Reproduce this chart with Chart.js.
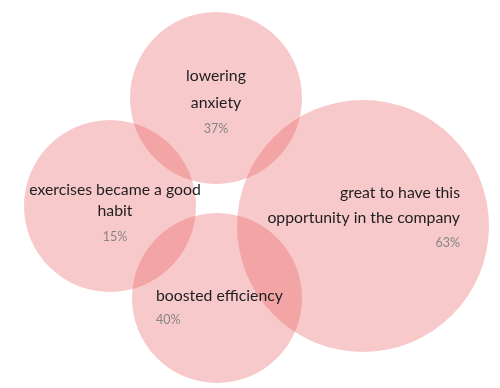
<!DOCTYPE html>
<html>
<head>
<meta charset="utf-8">
<script src="https://cdn.jsdelivr.net/npm/chart.js@4/dist/chart.umd.min.js"></script>
<style>
html,body{margin:0;padding:0;background:#fff;}
#wrap{width:500px;height:388px;position:relative;}
</style>
</head>
<body>
<div id="wrap"><canvas id="c" width="500" height="388"></canvas></div>
<script>
// Data
const categories = [["lowering","anxiety"],["exercises became a good","habit"],["great to have this","opportunity in the company"],["boosted efficiency"]];
const percents = [37, 15, 63, 40];
const xs = [216, 110, 363, 217];
const ys = [98, 206, 226, 298];
const radii = [86, 86, 126, 85];

// label layout per bubble: align, anchor x offset, first line y offset, line gap, percent gap
const labelLayout = [
  {align:'center', dx:0,  dy:-22, gap:27, pgap:26},
  {align:'center', dx:5,  dy:-16, gap:21, pgap:26},
  {align:'right',  dx:97, dy:-33, gap:25, pgap:25},
  {align:'left',   dx:-61,dy:-2,  gap:0,  pgap:24}
];

const labelPlugin = {
  id:'labels',
  afterDatasetsDraw(chart){
    const ctx = chart.ctx;
    const meta = chart.getDatasetMeta(0);
    ctx.save();
    ctx.textBaseline = 'middle';
    meta.data.forEach((pt, i) => {
      const L = labelLayout[i];
      const x = pt.x + L.dx;
      let y = pt.y + L.dy;
      ctx.textAlign = L.align;
      ctx.fillStyle = '#1e1e1e';
      ctx.font = '15.8px Lato';
      categories[i].forEach((line, j) => {
        ctx.fillText(line, x, y + j*L.gap);
      });
      const lastY = y + (categories[i].length-1)*L.gap;
      ctx.fillStyle = '#858585';
      ctx.font = '12.5px Lato';
      ctx.fillText(percents[i] + '%', x, lastY + L.pgap);
    });
    ctx.restore();
  }
};

new Chart(document.getElementById('c'), {
  type:'bubble',
  data:{
    datasets:[{
      data: xs.map((x,i)=>({x:x, y:ys[i], r:radii[i], v:percents[i]})),
      backgroundColor:'rgba(232,75,78,0.3)',
      borderWidth:0,
      hoverBorderWidth:0,
      hoverRadius:0,
      clip:false
    }]
  },
  options:{
    responsive:false,
    animation:false,
    events:[],
    layout:{padding:0, autoPadding:false},
    plugins:{legend:{display:false},tooltip:{enabled:false}},
    scales:{
      x:{type:'linear',min:0,max:500,display:false},
      y:{type:'linear',min:0,max:388,reverse:true,display:false}
    }
  },
  plugins:[labelPlugin]
});
</script>
</body>
</html>
